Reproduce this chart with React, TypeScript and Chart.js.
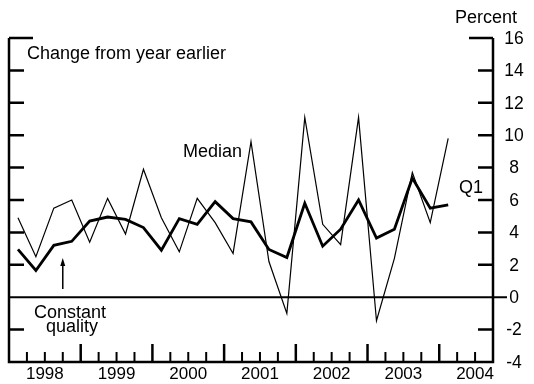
import React, { useEffect, useRef } from "react";
import { Chart, registerables } from "chart.js";

Chart.register(...registerables);

// Quarterly observations (quarter labels)
const quarters = [
  "1998Q1", "1998Q2", "1998Q3", "1998Q4",
  "1999Q1", "1999Q2", "1999Q3", "1999Q4",
  "2000Q1", "2000Q2", "2000Q3", "2000Q4",
  "2001Q1", "2001Q2", "2001Q3", "2001Q4",
  "2002Q1", "2002Q2", "2002Q3", "2002Q4",
  "2003Q1", "2003Q2", "2003Q3", "2003Q4",
  "2004Q1",
];

// Percent change from year earlier
const median = [
  4.9, 2.5, 5.5, 6.0,
  3.4, 6.1, 3.9, 7.9,
  4.9, 2.8, 6.1, 4.6,
  2.7, 9.6, 2.2, -1.0,
  11.1, 4.5, 3.25, 11.1,
  -1.45, 2.4, 7.7, 4.6,
  9.8,
];

const q1 = [
  2.95, 1.65, 3.2, 3.45,
  4.7, 4.95, 4.8, 4.3,
  2.9, 4.85, 4.5, 5.9,
  4.85, 4.65, 2.95, 2.45,
  5.8, 3.15, 4.2, 6.0,
  3.65, 4.2, 7.35, 5.5,
  5.7,
];

const yTicks = [-4, -2, 0, 2, 4, 6, 8, 10, 12, 14, 16];
const yearLabels = ["1998", "1999", "2000", "2001", "2002", "2003", "2004"];
const xMin = 1998;
const xMax = 2004.75;

const FONT = '"Liberation Sans", Arial, Helvetica, sans-serif';

function quarterToX(label: string): number {
  const y = Number(label.slice(0, 4));
  const q = Number(label.slice(5));
  return y + (q - 0.5) / 4;
}

const decorPlugin = {
  id: "decor",
  beforeDatasetsDraw(chart: any) {
    const { ctx, chartArea, scales } = chart;
    const y0 = scales.y.getPixelForValue(0);
    ctx.save();
    ctx.strokeStyle = "#000";
    ctx.lineWidth = 2;
    ctx.beginPath();
    ctx.moveTo(chartArea.left, y0);
    ctx.lineTo(chartArea.right + 14, y0);
    ctx.stroke();
    ctx.restore();
  },
  afterDatasetsDraw(chart: any) {
    const { ctx, chartArea, scales } = chart;
    const xs = scales.x;
    const ys = scales.y;
    const L = chartArea.left;
    const R = chartArea.right;
    const T = ys.getPixelForValue(16);
    const B = ys.getPixelForValue(-4);
    ctx.save();
    ctx.strokeStyle = "#000";
    ctx.fillStyle = "#000";
    ctx.lineCap = "butt";

    // axis frame (left, right, bottom)
    ctx.lineWidth = 2.5;
    ctx.beginPath();
    ctx.moveTo(L, T);
    ctx.lineTo(L, B);
    ctx.lineTo(R, B);
    ctx.lineTo(R, T);
    ctx.stroke();

    // y ticks on both sides
    ctx.lineWidth = 2.5;
    for (const v of yTicks) {
      if (v === -4 || v === 0) continue;
      const py = ys.getPixelForValue(v);
      const len = v === 16 ? 24 : 15;
      ctx.beginPath();
      ctx.moveTo(L, py);
      ctx.lineTo(L + len, py);
      ctx.moveTo(R, py);
      ctx.lineTo(R - len, py);
      ctx.stroke();
    }

    // x ticks: quarters (short) and years (tall)
    for (let t = xMin + 0.25; t < xMax - 1e-6; t += 0.25) {
      const px = xs.getPixelForValue(t);
      const isYear = Math.abs(t - Math.round(t)) < 1e-6;
      ctx.lineWidth = isYear ? 2.5 : 2;
      ctx.beginPath();
      ctx.moveTo(px, B);
      ctx.lineTo(px, B - (isYear ? 18 : 10));
      ctx.stroke();
    }

    // y tick labels (right side)
    ctx.font = `17.5px ${FONT}`;
    ctx.textAlign = "center";
    ctx.textBaseline = "middle";
    for (const v of yTicks) {
      const py = ys.getPixelForValue(v);
      ctx.fillText(String(v), R + 21, py + 1);
    }

    // year labels
    ctx.font = `17px ${FONT}`;
    ctx.textBaseline = "alphabetic";
    for (const yl of yearLabels) {
      const yr = Number(yl);
      const px = xs.getPixelForValue(yr + 0.5);
      ctx.fillText(yl, px, B + 17);
    }

    // annotations
    ctx.textAlign = "left";
    ctx.font = `18px ${FONT}`;
    ctx.fillText("Percent", 455, 23);
    ctx.fillText("Change from year earlier", 27, 59);
    ctx.fillText("Median", 183, 157);
    ctx.fillText("Q1", 459, 193);
    ctx.textAlign = "center";
    ctx.fillText("Constant", 70, 318);
    ctx.fillText("quality", 72, 332);

    // arrow
    const ax = xs.getPixelForValue(1998.75);
    ctx.lineWidth = 1.5;
    ctx.beginPath();
    ctx.moveTo(ax, 289);
    ctx.lineTo(ax, 264);
    ctx.stroke();
    ctx.beginPath();
    ctx.moveTo(ax, 258);
    ctx.lineTo(ax - 2.5, 266);
    ctx.lineTo(ax + 2.5, 266);
    ctx.closePath();
    ctx.fill();

    ctx.restore();
  },
};

export default function App() {
  const canvasRef = useRef<HTMLCanvasElement | null>(null);

  useEffect(() => {
    const canvas = canvasRef.current;
    if (!canvas) return;
    const chart = new Chart(canvas, {
      type: "line",
      data: {
        datasets: [
          {
            label: "Median",
            data: quarters.map((q, i) => ({ x: quarterToX(q), y: median[i] })),
            borderColor: "#000",
            borderWidth: 1.2,
            pointRadius: 0,
            tension: 0,
            fill: false,
          },
          {
            label: "Q1",
            data: quarters.map((q, i) => ({ x: quarterToX(q), y: q1[i] })),
            borderColor: "#000",
            borderWidth: 2.8,
            pointRadius: 0,
            tension: 0,
            fill: false,
            borderJoinStyle: "miter",
          },
        ],
      },
      options: {
        animation: false,
        responsive: false,
        maintainAspectRatio: false,
        devicePixelRatio: 1,
        layout: { padding: { left: 9, right: 41, top: 38, bottom: 22 } },
        plugins: {
          legend: { display: false },
          tooltip: { enabled: false },
          title: { display: false },
        },
        scales: {
          x: { type: "linear", min: xMin, max: xMax, display: false },
          y: { type: "linear", min: -4, max: 16, display: false },
        },
      },
      plugins: [decorPlugin],
    });
    return () => chart.destroy();
  }, []);

  return (
    <div style={{ position: "absolute", left: 0, top: 0, width: 534, height: 384, background: "#fff" }}>
      <canvas ref={canvasRef} width={534} height={384} style={{ display: "block", width: 534, height: 384 }} />
    </div>
  );
}
